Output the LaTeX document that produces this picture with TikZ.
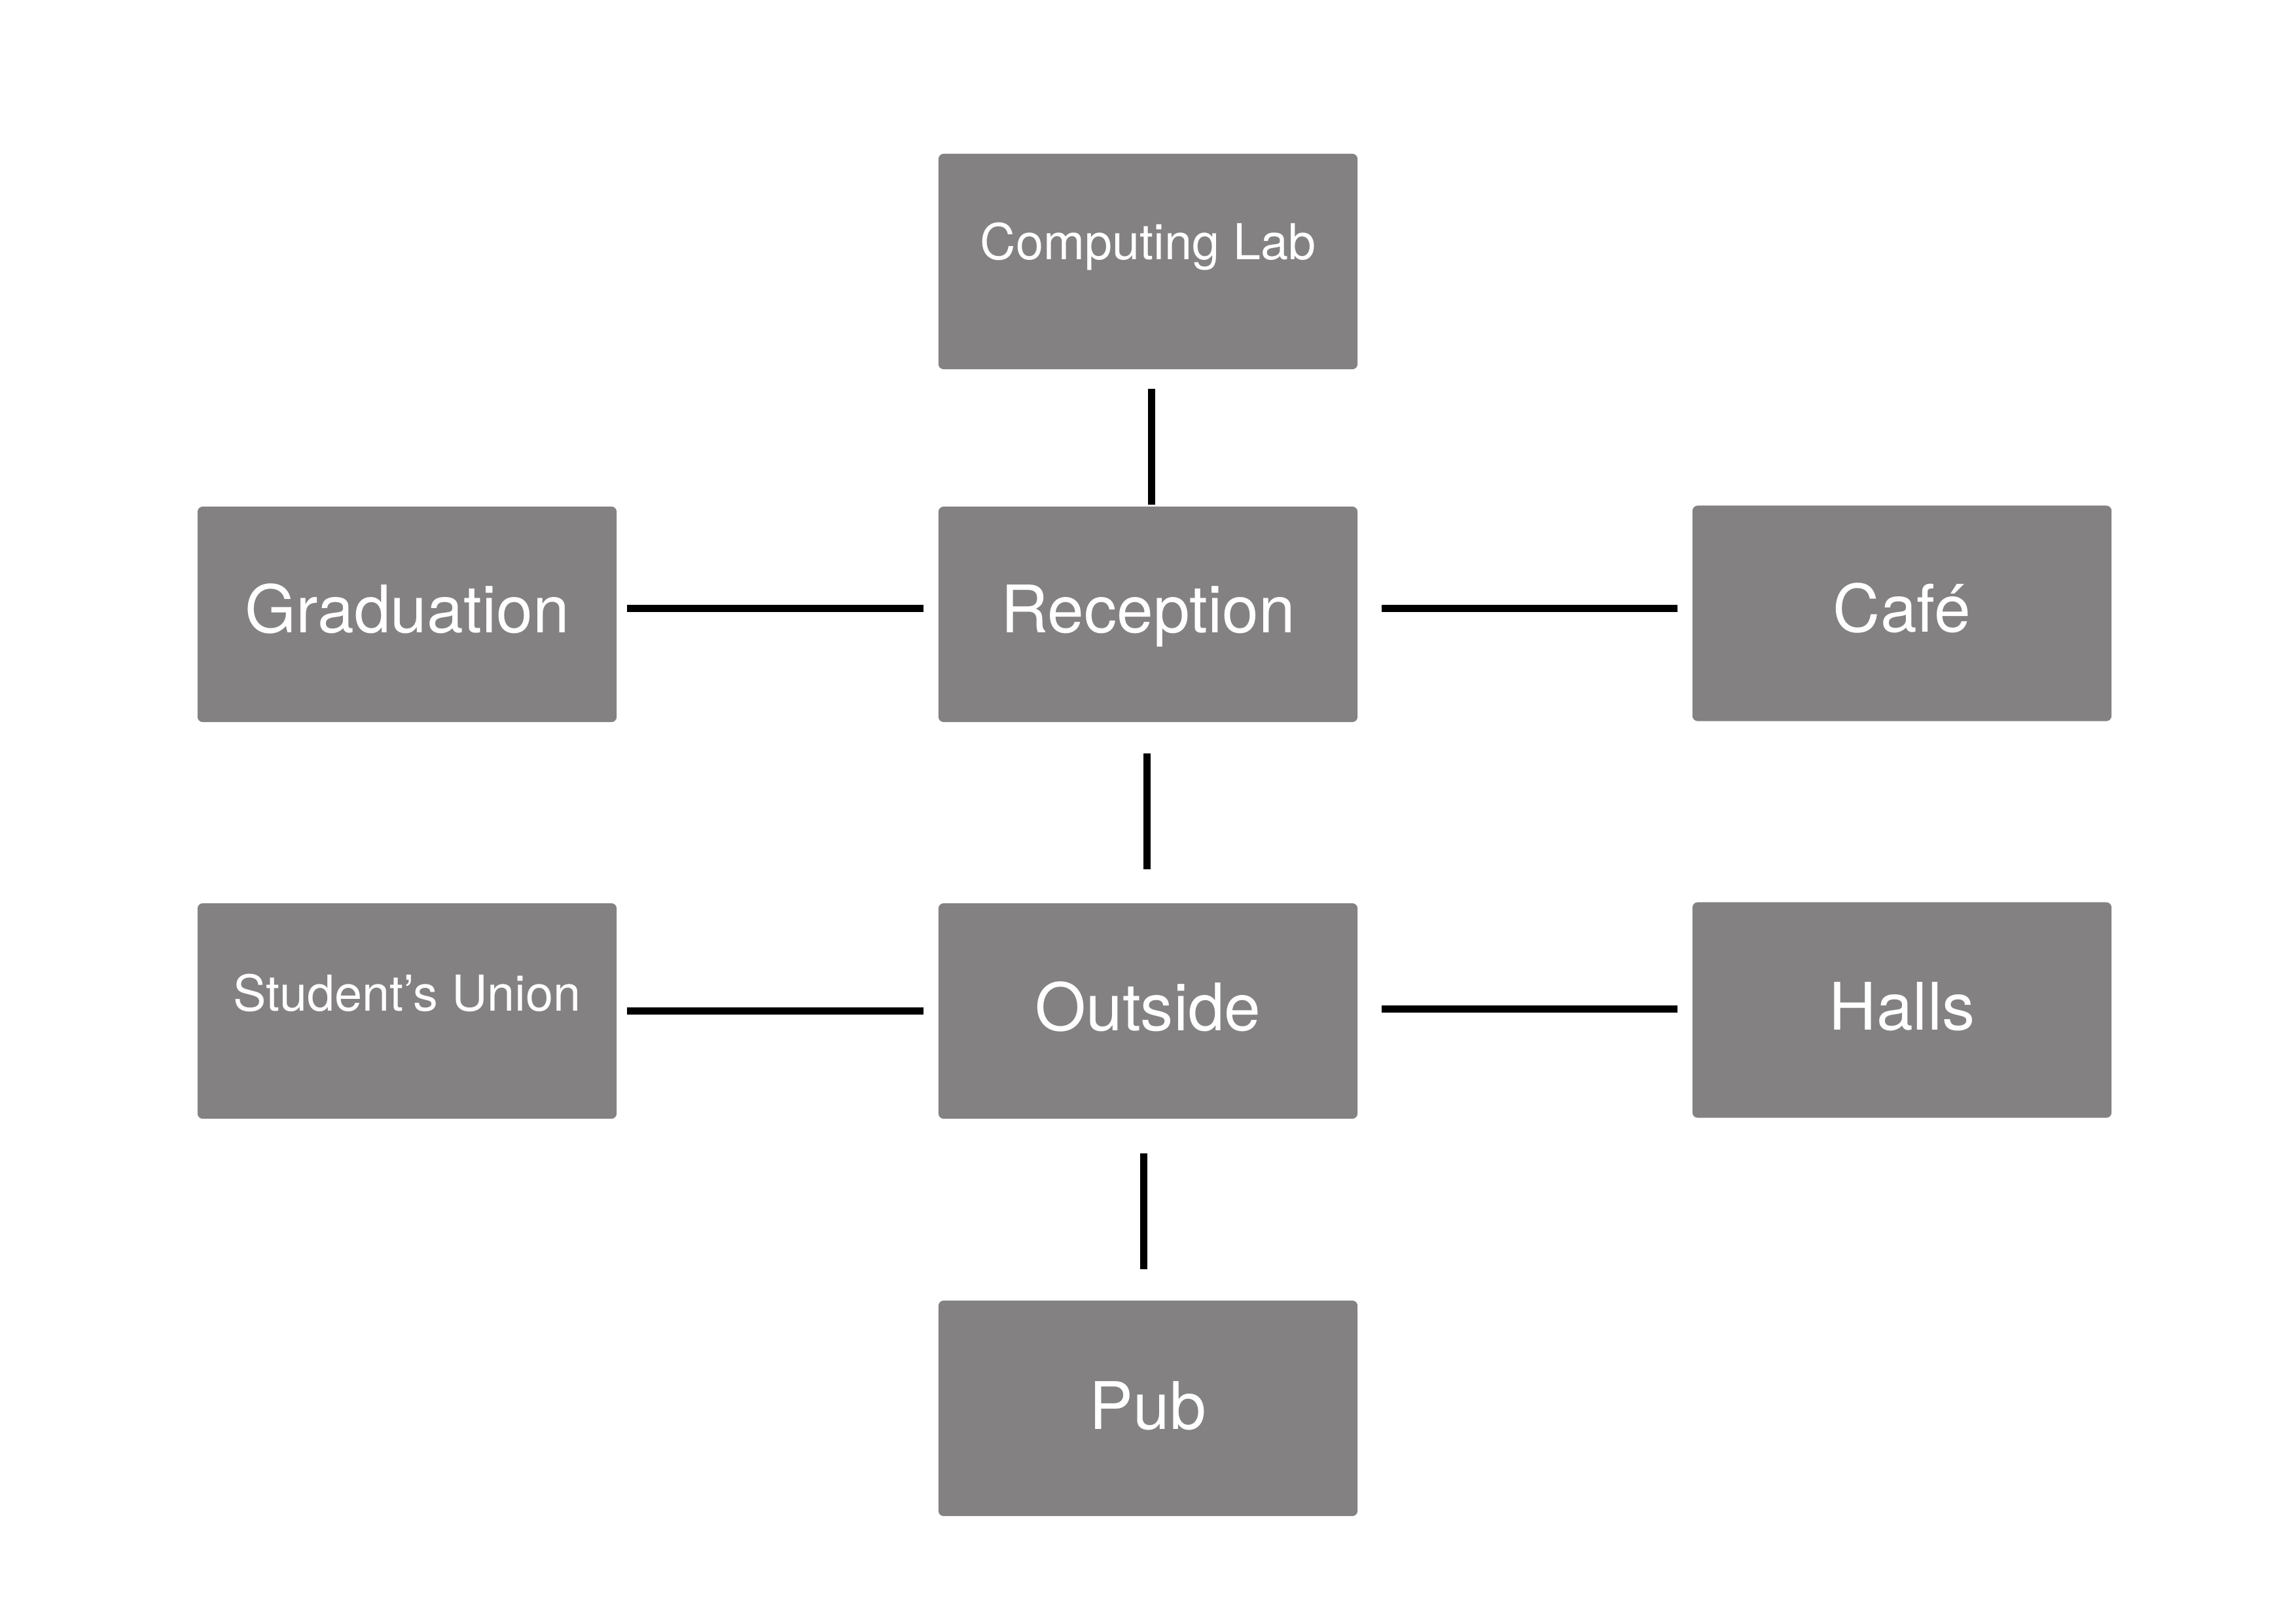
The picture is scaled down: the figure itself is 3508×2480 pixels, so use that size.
\documentclass[tikz,border=0pt]{standalone}
\usepackage{fontspec}
\setmainfont{TeX Gyre Heros}
\usetikzlibrary{calc}
\definecolor{boxgray}{RGB}{131,129,130}
\begin{document}
\begin{tikzpicture}[x=0.01cm,y=-0.01cm,
  room/.style={fill=boxgray, draw=none, rounded corners=0.08cm, minimum width=6.4cm, minimum height=3.29cm, inner sep=0pt},
  bigtxt/.style={text=white, font=\fontsize{28.5}{32}\selectfont, anchor=base, inner sep=0pt},
  smalltxt/.style={text=white, font=\fontsize{21.5}{25}\selectfont, anchor=base, inner sep=0pt},
  link/.style={line width=0.11cm, black}]
\useasboundingbox[fill=white] (0,0) rectangle (3508,2480);
% boxes
\node[room] (lab) at (1754,399.5) {};
\node[room] (grad) at (622,938.5) {};
\node[room] (rec) at (1754,938.5) {};
\node[room] (cafe) at (2906,937) {};
\node[room] (su) at (622,1544.5) {};
\node[room] (out) at (1754,1544.5) {};
\node[room] (halls) at (2906,1543) {};
\node[room] (pub) at (1754,2151.5) {};
% texts
\node[smalltxt] (labt) at ($(lab.center)+(0,-3)$) {Computing Lab};
\node[bigtxt] (gradt) at ($(grad.center)+(0,28)$) {Graduation};
\node[bigtxt] (rect) at ($(rec.center)+(0,28)$) {Reception};
\node[bigtxt] (cafet) at ($(cafe.center)+(0,28)$) {Café};
\node[smalltxt] (sut) at ($(su.center)+(0,0)$) {Student’s Union};
\node[bigtxt] (outt) at ($(out.center)+(0,30)$) {Outside};
\node[bigtxt] (hallst) at ($(halls.center)+(0,30)$) {Halls};
\node[bigtxt] (pubt) at ($(pub.center)+(0,32)$) {Pub};
% connectors
\draw[link] ($(lab.south)+(5,29)$) -- ($(rec.north)+(5,-2)$);
\draw[link] ($(grad.east)+(15,-9.5)$) -- ($(rec.west)+(-22,-9.5)$);
\draw[link] ($(rec.east)+(36,-9.5)$) -- ($(cafe.west)+(-22,-8)$);
\draw[link] ($(rec.south)+(-2,47)$) -- ($(out.north)+(-2,-51)$);
\draw[link] ($(su.east)+(15,0)$) -- ($(out.west)+(-22,0)$);
\draw[link] ($(out.east)+(36,-3)$) -- ($(halls.west)+(-22,-1.5)$);
\draw[link] ($(out.south)+(-7,52)$) -- ($(pub.north)+(-7,-47)$);
\end{tikzpicture}
\end{document}
